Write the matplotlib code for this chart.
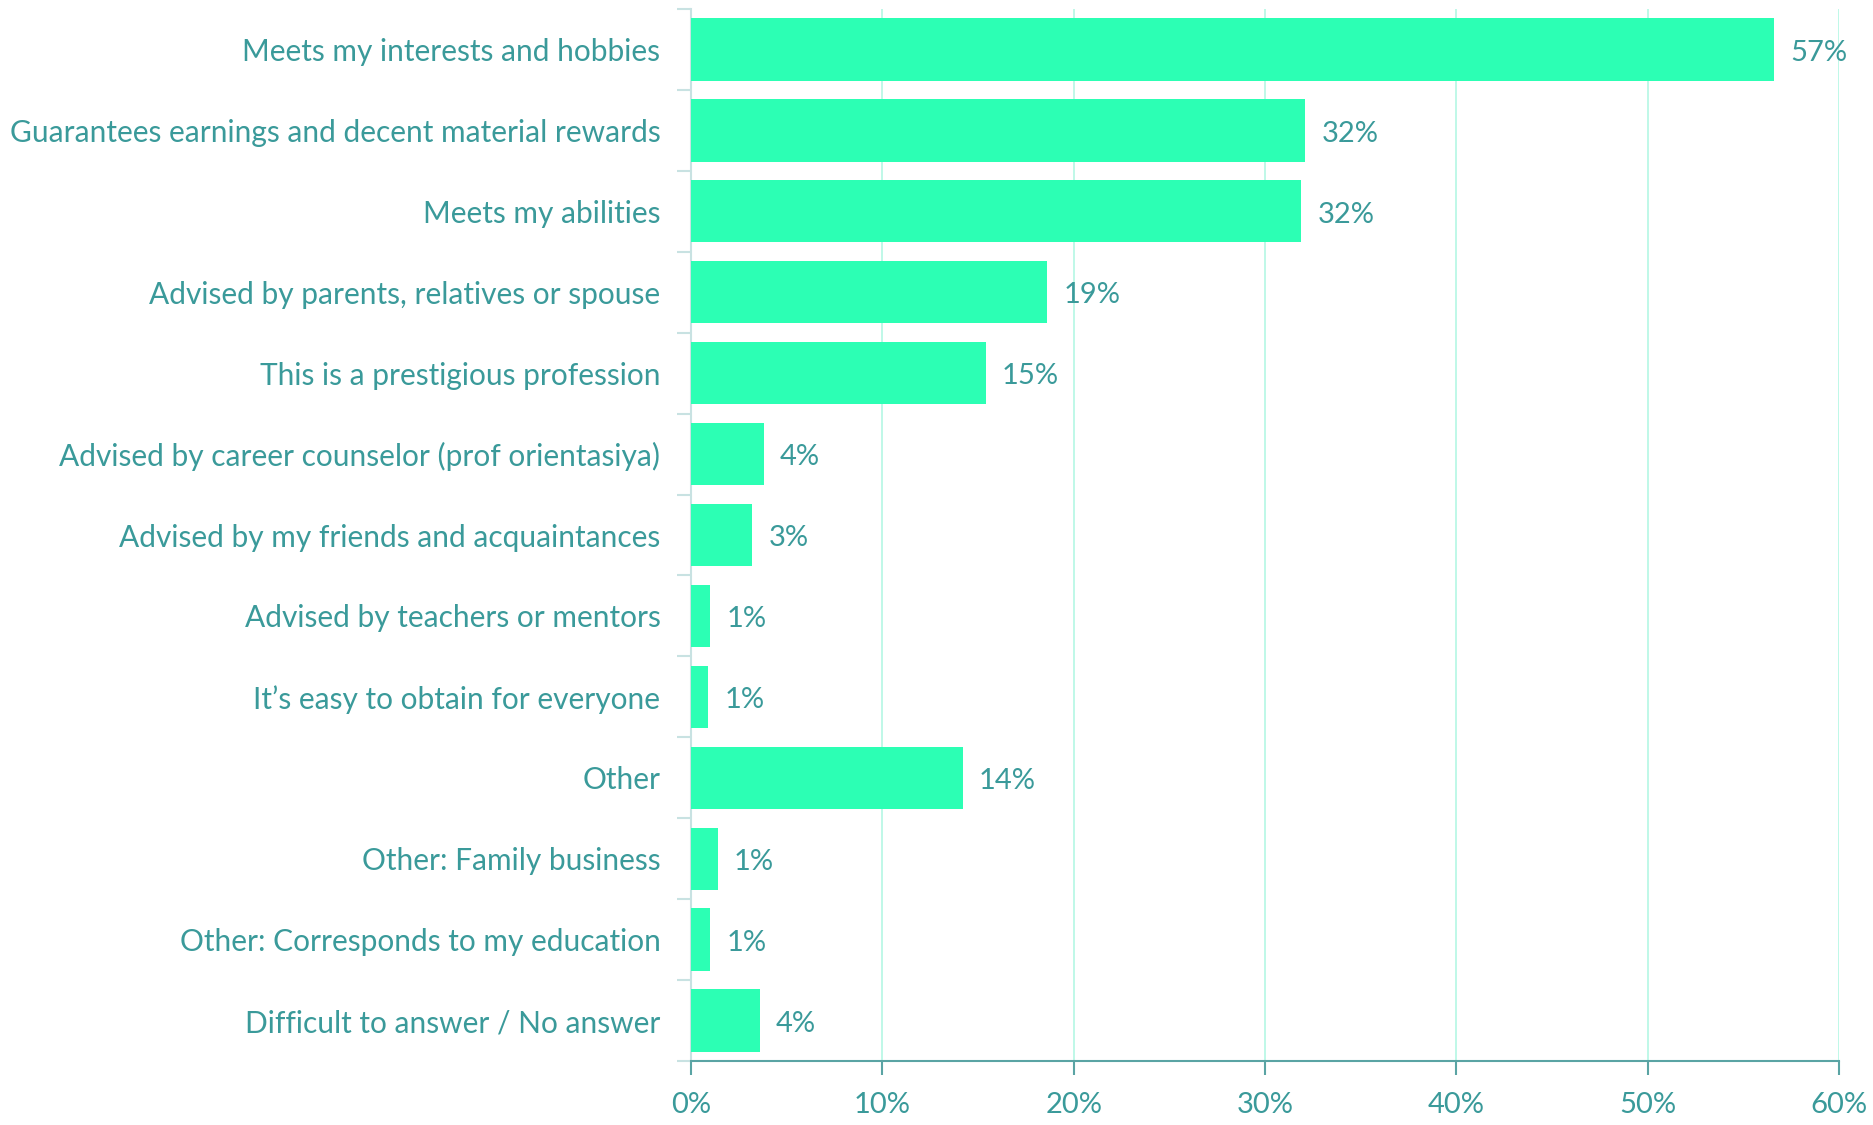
import matplotlib
matplotlib.use("Agg")
import matplotlib.pyplot as plt
from matplotlib.ticker import FuncFormatter

# survey answers, top to bottom
CATEGORIES = [
    "Meets my interests and hobbies",
    "Guarantees earnings and decent material rewards",
    "Meets my abilities",
    "Advised by parents, relatives or spouse",
    "This is a prestigious profession",
    "Advised by career counselor (prof orientasiya)",
    "Advised by my friends and acquaintances",
    "Advised by teachers or mentors",
    "It\u2019s easy to obtain for everyone",
    "Other",
    "Other: Family business",
    "Other: Corresponds to my education",
    "Difficult to answer / No answer",
]
SHARES = [56.6, 32.1, 31.9, 18.6, 15.4, 3.8, 3.2, 1.0, 0.9, 14.2, 1.4, 1.0, 3.6]
XTICKS = [0, 10, 20, 30, 40, 50, 60]

BAR = "#2cffb4"
TEXT = "#3a9a9a"
GRID = "#b4f7e4"

plt.rcParams["font.family"] = ["Lato", "DejaVu Sans"]

fig = plt.figure(figsize=(18.74, 11.25), dpi=100)
ax = fig.add_axes([691 / 1874, 1 - 1061 / 1125, (1839 - 691) / 1874, (1061 - 9) / 1125])

ys = list(range(len(CATEGORIES)))
ax.barh(ys, SHARES, height=0.77, color=BAR, zorder=3)
for y, v in zip(ys, SHARES):
    ax.text(v + 0.85, y + 0.04, f"{round(v):.0f}%", va="center", ha="left",
            fontsize=21, color=TEXT)

ax.set_ylim(len(CATEGORIES) - 0.5, -0.5)
ax.set_xlim(0, 60)
ax.set_xticks(XTICKS)
ax.xaxis.set_major_formatter(FuncFormatter(lambda x, _: f"{x:.0f}%"))
ax.set_yticks([y - 0.5 for y in ys] + [len(ys) - 0.5])
ax.set_yticklabels([])
ax.set_yticks(ys, minor=True)
ax.set_yticklabels(CATEGORIES, minor=True)
ax.tick_params(axis="y", which="minor", length=0, pad=22, labelsize=21.5,
               labelcolor=TEXT)
ax.tick_params(axis="y", which="major", length=10, width=1.5, color="#c8e2e2")
ax.tick_params(axis="x", length=10, width=1.5, color="#5aa4a4",
               labelsize=21, labelcolor=TEXT, pad=12)

ax.grid(axis="x", color=GRID, lw=1.2, zorder=0)
for s in ("top", "right"):
    ax.spines[s].set_visible(False)
ax.spines["left"].set_color("#c8e2e2")
ax.spines["left"].set_linewidth(1.5)
ax.spines["bottom"].set_color("#5aa4a4")
ax.spines["bottom"].set_linewidth(1.5)

fig.savefig("out.png", dpi=100)
